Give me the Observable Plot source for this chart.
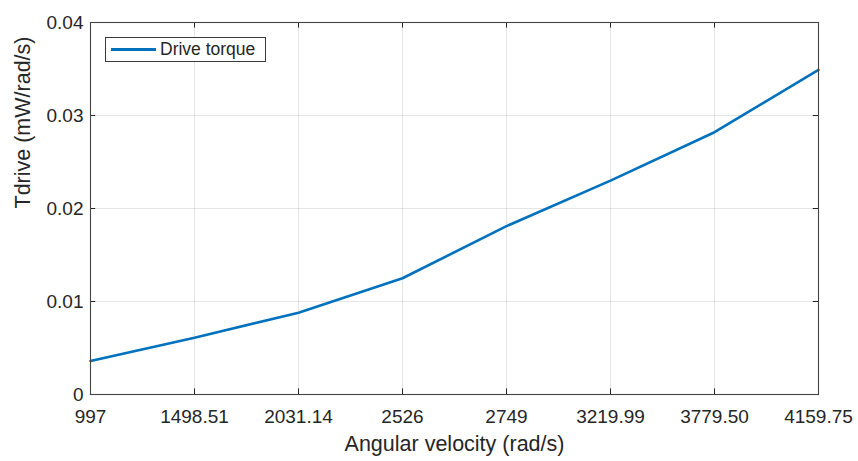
<!DOCTYPE html>
<html>
<head>
<meta charset="utf-8">
<script src="https://cdn.jsdelivr.net/npm/d3@7"></script>
<script src="https://cdn.jsdelivr.net/npm/@observablehq/plot@0.6"></script>
<style>
  html, body { margin: 0; padding: 0; background: #fff; }
  #chart { position: relative; width: 858px; height: 461px; font-family: "Liberation Sans", Arial, sans-serif; }
  .legend {
    position: absolute; left: 105px; top: 37px; width: 161px; height: 25px;
    border: 1px solid #3a3a3a; background: #fff; box-sizing: border-box;
    display: flex; align-items: center;
  }
  .legend .swatch { width: 45px; height: 3px; background: #0072BD; margin-left: 5px; margin-right: 4px; }
  .legend .label { font-size: 17.5px; color: #262626; white-space: nowrap; }
</style>
</head>
<body>
<div id="chart"></div>
<script>
// Angular velocity samples (rad/s), shown as evenly spaced categories
const velocityLabels = ["997", "1498.51", "2031.14", "2526", "2749", "3219.99", "3779.50", "4159.75"];
// Drive torque at each sample (mW/rad/s)
const driveTorque = [0.0036, 0.0061, 0.0088, 0.0125, 0.0181, 0.0230, 0.0282, 0.0349];
// Y-axis tick values
const yTicks = [0, 0.01, 0.02, 0.03, 0.04];

const idx = d3.range(velocityLabels.length);
const data = idx.map(i => ({i, torque: driveTorque[i]}));
const last = idx.length - 1;
const ink = "#262626";

const chart = Plot.plot({
  width: 858,
  height: 461,
  marginLeft: 90,
  marginRight: 40,
  marginTop: 22,
  marginBottom: 67,
  style: {fontFamily: "'Liberation Sans', Arial, sans-serif", color: ink, background: "#fff"},
  x: {type: "linear", domain: [0, last]},
  y: {domain: [0, 0.04]},
  marks: [
    Plot.gridX(idx, {stroke: "#000", strokeOpacity: 0.1}),
    Plot.gridY(yTicks, {stroke: "#000", strokeOpacity: 0.1}),
    // inward ticks on all four sides
    Plot.ruleX(idx, {x: d => d, y1: 0, y2: 0.0006, stroke: ink, strokeWidth: 1}),
    Plot.ruleX(idx, {x: d => d, y1: 0.04, y2: 0.0394, stroke: ink, strokeWidth: 1}),
    Plot.ruleY(yTicks, {y: d => d, x1: 0, x2: 0.05, stroke: ink, strokeWidth: 1}),
    Plot.ruleY(yTicks, {y: d => d, x1: last, x2: last - 0.05, stroke: ink, strokeWidth: 1}),
    Plot.line(data, {x: "i", y: "torque", stroke: "#0072BD", strokeWidth: 2.6}),
    Plot.frame({stroke: "#444", strokeWidth: 1.1}),
    Plot.axisX({ticks: idx, tickFormat: i => velocityLabels[i], tickSize: 0, tickPadding: 15, fontSize: 19, label: null}),
    Plot.axisY({ticks: yTicks, tickFormat: d => d === 0 ? "0" : d3.format(".2f")(d), tickSize: 0, tickPadding: 7, fontSize: 19, label: null}),
    Plot.text(["Angular velocity (rad/s)"], {frameAnchor: "bottom", text: d => d, dy: 56, fontSize: 21.5, fill: ink}),
    Plot.text(["Tdrive (mW/rad/s)"], {frameAnchor: "left", text: d => d, dx: -67, rotate: -90, fontSize: 21.5, fill: ink})
  ]
});

const root = document.getElementById("chart");
root.appendChild(chart);

const legend = document.createElement("div");
legend.className = "legend";
legend.innerHTML = '<div class="swatch"></div><div class="label">Drive torque</div>';
root.appendChild(legend);
</script>
</body>
</html>
